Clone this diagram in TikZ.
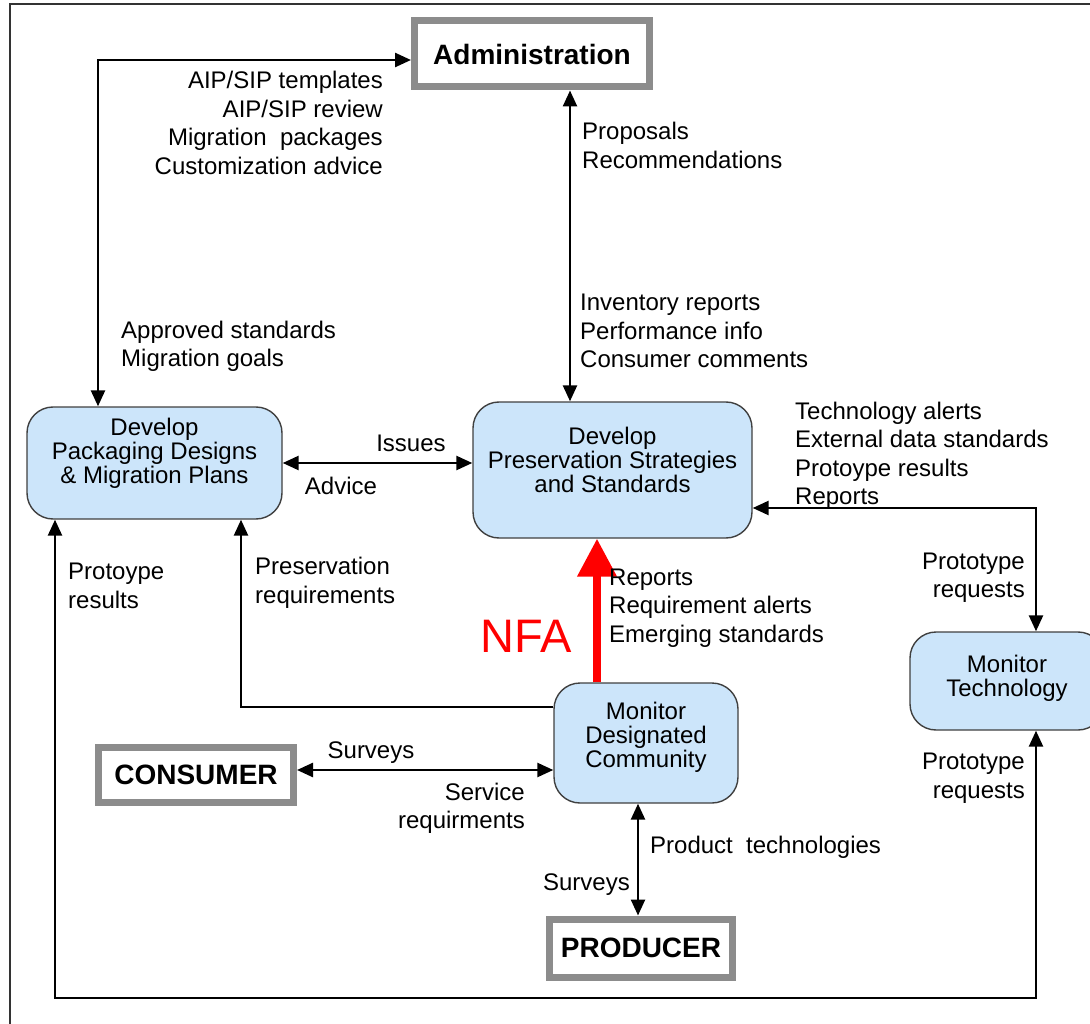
\documentclass[tikz,border=0pt]{standalone}
\usepackage{fontspec}
\setmainfont{Liberation Sans}
\usepackage{tikz}
\usetikzlibrary{arrows.meta}
\definecolor{procblue}{RGB}{204,229,250}
\definecolor{extgray}{RGB}{140,140,140}

\begin{document}
\begin{tikzpicture}[x=1pt, y=-1pt,
  proc/.style={draw=black!75, line width=1.4pt, fill=procblue, rounded corners=26pt, align=center, font=\fontsize{24}{24}\selectfont},
  ext/.style={draw=extgray, line width=7pt, fill=white, font=\bfseries\fontsize{28}{28}\selectfont},
  lbl/.style={inner sep=0pt, font=\fontsize{24}{28.5}\selectfont},
  flow/.style={line width=2.5pt, {Triangle[length=16pt,width=14pt]}-{Triangle[length=16pt,width=14pt]}},
  flowto/.style={line width=2.5pt, -{Triangle[length=16pt,width=14pt]}},
  nfaflow/.style={red, line width=7.5pt, -{Triangle[length=38pt,width=38pt]}}]
\useasboundingbox (0,0) rectangle (1090,1024);
\clip (0,0) rectangle (1090,1024);
\draw[black!80, line width=1.5pt] (10,1024) -- (10,4) -- (1090,4);

\node[ext, minimum width=235pt, minimum height=66pt] (adm) at (532,54) {Administration};
\node[ext, minimum width=195pt, minimum height=55pt] (cons) at (196,775) {CONSUMER};
\node[ext, minimum width=183pt, minimum height=58pt] (prod) at (641,948) {PRODUCER};

\node[proc, minimum width=255pt, minimum height=112pt, text depth=24pt] (pkg) at (154.5,463) {Develop\\Packaging Designs\\\& Migration Plans};
\node[proc, minimum width=279pt, minimum height=136pt, text depth=20pt] (pres) at (612.5,470) {Develop\\Preservation Strategies\\and Standards};
\node[proc, minimum width=184pt, minimum height=120pt, text depth=16pt] (mdc) at (646,743) {Monitor\\Designated\\Community};
\node[proc, minimum width=194pt, minimum height=98pt, text depth=10pt] (tech) at (1007,681) {Monitor\\Technology};

\coordinate (tl) at (98,60);
\coordinate (av) at (570,0);
\coordinate (tr) at (1036,508);
\coordinate (bl) at (55,998);
\coordinate (br) at (1036,998);
\coordinate (pr) at (241,707);
\coordinate (nfa) at (597,0);
\coordinate (cy) at (300,770);
\coordinate (pv) at (638,0);

\draw[flow] (adm.west |- tl) -- (tl) -- (tl |- pkg.north);
\draw[flow] (adm.south -| av) -- (pres.north -| av);
\draw[flow] (pkg.east) -- (pkg.east -| pres.west);
\draw[flow] (pres.east |- tr) -- (tr) -- (tech.north -| tr);
\draw[flow] (pkg.south -| bl) -- (bl) -- (br) -- (tech.south -| br);
\draw[flowto] (mdc.west |- pr) -- (pr) -- (pr |- pkg.south);
\draw[flow] (cons.east |- cy) -- (mdc.west |- cy);
\draw[flow] (mdc.south -| pv) -- (prod.north -| pv);
\draw[nfaflow] (mdc.north -| nfa) -- (pres.south -| nfa);

\node[lbl, anchor=east, align=right] (admnotes) at (383,123) {AIP/SIP templates\\AIP/SIP review\\Migration\ \ packages\\Customization advice};
\node[lbl, anchor=west, align=left] (apprnotes) at (121,346.5) {Approved standards\\Migration goals};
\node[lbl, anchor=west, align=left] (propnotes) at (582,145.5) {Proposals\\Recommendations};
\node[lbl, anchor=west, align=left] (invnotes) at (580,331) {Inventory reports\\Performance info\\Consumer comments};
\node[lbl] (issues) at (411,443) {Issues};
\node[lbl] (advice) at (341,486) {Advice};
\node[lbl, anchor=west, align=left] (technotes) at (795,456) {Technology alerts\\External data standards\\Protoype results\\Reports};
\node[lbl, anchor=east, align=right] (reqnotes) at (1025,577.5) {Prototype\\requests};
\node[lbl, anchor=east, align=right] (reqnotesb) at (1025,778) {Prototype\\requests};
\node[lbl, anchor=west, align=left] (protonotes) at (68,586) {Protoype\\results};
\node[lbl, anchor=west, align=left] (presnotes) at (255,583) {Preservation\\requirements};
\node[lbl, red, font=\fontsize{47}{47}\selectfont] (nfalbl) at (526,636) {NFA};
\node[lbl, anchor=west, align=left] (repnotes) at (609,608) {Reports\\Requirement alerts\\Emerging standards};
\node[lbl] (surveys) at (371,753) {Surveys};
\node[lbl, anchor=east, align=right] (servnotes) at (525,808.5) {Service\\requirments};
\node[lbl, anchor=west] (prodtech) at (650,847) {Product\ \ technologies};
\node[lbl, anchor=east] (surveysb) at (630,885) {Surveys};
\end{tikzpicture}
\end{document}
